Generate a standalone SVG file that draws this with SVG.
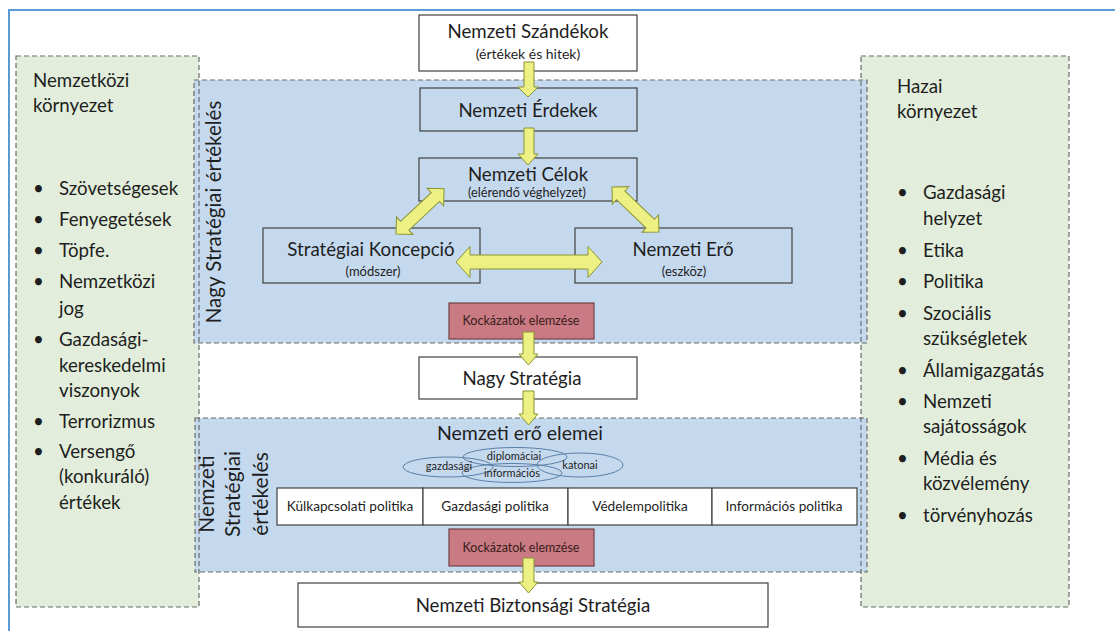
<svg xmlns="http://www.w3.org/2000/svg" width="1115" height="631" viewBox="0 0 1115 631">
<style>
.t{font-family:Lato,"Open Sans","Liberation Sans",sans-serif;fill:#1e1e1e}
.big{font-size:18.7px}
.sm{font-size:13px}
.xs{font-size:11px}
.c{text-anchor:middle}
.box{fill:none;stroke:#404040;stroke-width:1.2}
.wbox{fill:#fff;stroke:#404040;stroke-width:1.2}
.risk{fill:#c97a82;stroke:#6e4246;stroke-width:1.2}
.dash{fill:none;stroke:#6a6a6a;stroke-width:1.2;stroke-dasharray:5 3}
.arr{fill:#edf083;stroke:#8a9334;stroke-width:1}
.ell{fill:none;stroke:#5a7fa8;stroke-width:1}
.pol{font-size:13.6px}
.rk{font-size:12.5px;fill:#3a1c1c}
</style>
<rect x="0" y="0" width="1115" height="631" fill="#fff"/>
<rect x="9" y="10" width="1130" height="640" fill="none" stroke="#5b9bd5" stroke-width="2"/>

<g id="regions">
<rect x="16" y="56" width="183" height="551" fill="#e2eedb"/>
<rect x="861" y="56" width="208" height="551" fill="#e2eedb"/>
<rect x="194" y="80" width="673" height="263" fill="#c5d9ee"/>
<rect x="195" y="418" width="672" height="154" fill="#c5d9ee"/>
<rect class="dash" x="16" y="56" width="183" height="551"/>
<rect class="dash" x="861" y="56" width="208" height="551"/>
<rect class="dash" x="194" y="80" width="673" height="263"/>
<rect class="dash" x="195" y="418" width="672" height="154"/>
</g>

<g id="nemzetkozi-kornyezet" class="t big">
<text x="33" y="87">Nemzetközi</text>
<text x="33" y="112">környezet</text>
<text x="33" y="195">•</text><text x="59" y="195">Szövetségesek</text>
<text x="33" y="226">•</text><text x="59" y="226">Fenyegetések</text>
<text x="33" y="257">•</text><text x="59" y="257">Töpfe.</text>
<text x="33" y="288">•</text><text x="59" y="288">Nemzetközi</text>
<text x="59" y="315">jog</text>
<text x="33" y="346">•</text><text x="59" y="346">Gazdasági-</text>
<text x="59" y="372">kereskedelmi</text>
<text x="59" y="397">viszonyok</text>
<text x="33" y="428">•</text><text x="59" y="428">Terrorizmus</text>
<text x="33" y="458">•</text><text x="59" y="458">Versengő</text>
<text x="59" y="483">(konkuráló)</text>
<text x="59" y="509">értékek</text>
</g>

<g id="hazai-kornyezet" class="t big">
<text x="897" y="93">Hazai</text>
<text x="897" y="118">környezet</text>
<text x="897" y="199">•</text><text x="923" y="199">Gazdasági</text>
<text x="923" y="225">helyzet</text>
<text x="897" y="257">•</text><text x="923" y="257">Etika</text>
<text x="897" y="288">•</text><text x="923" y="288">Politika</text>
<text x="897" y="320">•</text><text x="923" y="320">Szociális</text>
<text x="923" y="345">szükségletek</text>
<text x="897" y="377">•</text><text x="923" y="377">Államigazgatás</text>
<text x="897" y="408">•</text><text x="923" y="408">Nemzeti</text>
<text x="923" y="433">sajátosságok</text>
<text x="897" y="465">•</text><text x="923" y="465">Média és</text>
<text x="923" y="490">közvélemény</text>
<text x="897" y="522">•</text><text x="923" y="522">törvényhozás</text>
</g>

<g id="label-nagy-strategiai" class="t">
<text class="c" style="font-size:20.5px" transform="translate(221,212) rotate(-90)">Nagy Stratégiai értékelés</text>
</g>
<g id="label-nemzeti-strategiai" class="t" style="font-size:21px">
<text class="c" transform="translate(214,494) rotate(-90)">Nemzeti</text>
<text class="c" transform="translate(240,494) rotate(-90)">Stratégiai</text>
<text class="c" transform="translate(268,494) rotate(-90)">értékelés</text>
</g>

<g id="nemzeti-szandekok">
<rect class="wbox" x="419" y="15" width="218" height="56"/>
<text class="t big c" x="528" y="38">Nemzeti Szándékok</text>
<text class="t c" style="font-size:14px" x="528" y="59">(értékek és hitek)</text>
</g>
<g id="nemzeti-erdekek">
<rect class="box" x="420" y="88" width="217" height="43"/>
<text class="t big c" x="528" y="117">Nemzeti Érdekek</text>
</g>
<g id="nemzeti-celok">
<rect class="box" x="419" y="158" width="218" height="43"/>
<text class="t big c" x="528" y="181">Nemzeti Célok</text>
<text class="t c" style="font-size:12.7px" x="527" y="197">(elérendő véghelyzet)</text>
</g>
<g id="strategiai-koncepcio">
<rect class="box" x="263" y="228" width="217" height="55"/>
<text class="t big c" x="371" y="256">Stratégiai Koncepció</text>
<text class="t sm c" x="373" y="276">(módszer)</text>
</g>
<g id="nemzeti-ero">
<rect class="box" x="575" y="228" width="217" height="55"/>
<text class="t big c" x="683" y="256">Nemzeti Erő</text>
<text class="t sm c" x="684" y="276">(eszköz)</text>
</g>
<g id="kockazatok-1">
<rect class="risk" x="449" y="303" width="145" height="36"/>
<text class="t c rk" x="521" y="325">Kockázatok elemzése</text>
</g>
<g id="nagy-strategia">
<rect class="wbox" x="419" y="357" width="218" height="42"/>
<text class="t big c" x="522" y="385">Nagy Stratégia</text>
</g>
<g id="nemzeti-ero-elemei">
<text class="t c" style="font-size:19.5px" x="520" y="440">Nemzeti erő elemei</text>
<ellipse class="ell" cx="448" cy="467" rx="45" ry="10"/>
<ellipse class="ell" cx="515" cy="457" rx="52" ry="9.5"/>
<ellipse class="ell" cx="512" cy="473" rx="50" ry="9.5"/>
<ellipse class="ell" cx="580" cy="465" rx="43" ry="12"/>
<text class="t xs c" x="449" y="470">gazdasági</text>
<text class="t xs c" x="514" y="460">diplomáciai</text>
<text class="t xs c" x="512" y="477">információs</text>
<text class="t xs c" x="580" y="469">katonai</text>
</g>
<g id="politikak">
<rect class="wbox" x="277" y="488" width="146" height="37"/>
<rect class="wbox" x="423" y="488" width="145" height="37"/>
<rect class="wbox" x="568" y="488" width="144" height="37"/>
<rect class="wbox" x="712" y="488" width="145" height="37"/>
<text class="t c pol" x="350" y="511">Külkapcsolati politika</text>
<text class="t c pol" x="495" y="511">Gazdasági politika</text>
<text class="t c pol" x="640" y="511">Védelempolitika</text>
<text class="t c pol" x="784" y="511">Információs politika</text>
</g>
<g id="kockazatok-2">
<rect class="risk" x="449" y="529" width="145" height="37"/>
<text class="t c rk" x="521" y="552">Kockázatok elemzése</text>
</g>
<g id="nemzeti-biztonsagi-strategia">
<rect class="wbox" x="298" y="583" width="470" height="44"/>
<text class="t big c" x="533" y="612">Nemzeti Biztonsági Stratégia</text>
</g>

<g id="connectors">
<path class="arr" d="M524,62 H534 V87 H538 L528,97 L518,87 H524 Z"/>
<path class="arr" d="M524,128 H534 V154 H538 L528,165 L518,154 H524 Z"/>
<path class="arr" d="M523,332 H534 V354 H538 L528.5,365 L519,354 H523 Z"/>
<path class="arr" d="M523,391 H534 V414 H538 L528.5,425 L519,414 H523 Z"/>
<path class="arr" d="M523,558 H534 V582 H538 L528.5,593 L519,582 H523 Z"/>
<path class="arr" transform="translate(396,234) rotate(-43.2)" d="M0,0 L12,-12 L12,-6 L54,-6 L54,-12 L66,0 L54,12 L54,6 L12,6 L12,12 Z"/>
<path class="arr" transform="translate(612,187) rotate(43.8)" d="M0,0 L12,-12 L12,-6 L53,-6 L53,-12 L65,0 L53,12 L53,6 L12,6 L12,12 Z"/>
<path class="arr" transform="translate(456,262)" d="M0,0 L14,-15.5 L14,-7 L132,-7 L132,-15.5 L146,0 L132,15.5 L132,7 L14,7 L14,15.5 Z"/>
</g>
</svg>
